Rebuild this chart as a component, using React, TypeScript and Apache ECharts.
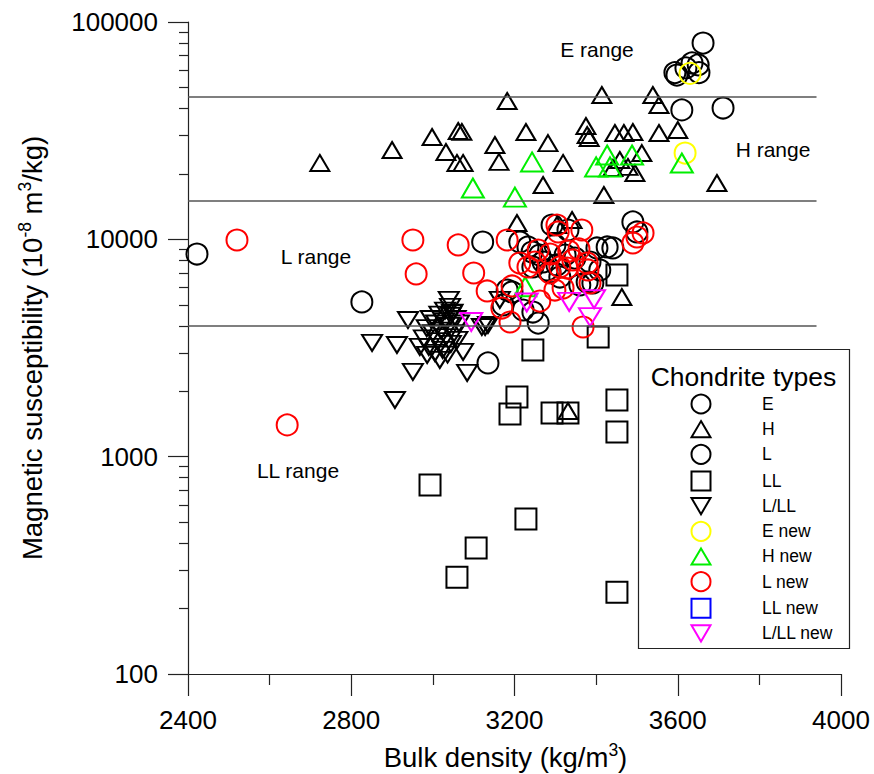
import React, { useEffect, useRef } from 'react';
import * as echarts from 'echarts';

// ---------- data (bulk density kg/m3, magnetic susceptibility 1e-8 m3/kg) ----------
const eData: number[][] = [
  [3593, 58500], [3598, 57000], [3620, 61500], [3635, 64800], [3650, 63500],
  [3652, 58500], [3662, 80000], [3610, 39400], [3711, 40200],
];
const hData: number[][] = [
  [2723, 22460], [2900, 25760], [2998, 29580], [3032, 25220], [3059, 22460],
  [3062, 31500], [3071, 31200], [3074, 22460], [3152, 27170], [3162, 22700],
  [3182, 43300], [3206, 11890], [3228, 31180], [3270, 17780], [3282, 27730],
  [3304, 11640], [3319, 22460], [3341, 12270], [3331, 1622], [3375, 33230],
  [3378, 30200], [3383, 29270], [3414, 46150], [3419, 15990], [3441, 21290],
  [3446, 30850], [3458, 23180], [3463, 5430], [3468, 30850], [3478, 21530],
  [3490, 31180], [3495, 20190], [3512, 24950], [3539, 46150], [3554, 41500],
  [3554, 30850], [3600, 31840], [3696, 18160],
];
const lData: number[][] = [
  [2422, 8560], [2826, 5150], [3122, 9720], [3135, 2700], [3213, 9720],
  [3233, 9222], [3243, 8740], [3292, 11640], [3331, 11040], [3304, 7620],
  [3280, 7227], [3360, 6165], [3378, 6363], [3402, 9125], [3427, 9222],
  [3441, 9125], [3490, 12020], [3500, 10810], [3172, 4988], [3194, 5725],
  [3258, 4120], [3245, 4630], [3287, 7074], [3311, 6708], [3392, 6297],
  [3245, 7460], [3270, 7865], [3262, 8470], [3324, 8470], [3348, 8200],
  [3299, 9420], [3385, 7865], [3221, 4730], [3182, 5845], [3409, 7227],
];
const llData: number[][] = [
  [3451, 6855], [3405, 3553], [3245, 3096], [3206, 1882], [3189, 1572],
  [3292, 1588], [3331, 1588], [3451, 1823], [3451, 1299], [2993, 741],
  [3228, 517], [3106, 380], [3059, 279], [3451, 238],
];
const lllData: number[][] = [
  [2939, 4255], [2851, 3335], [2912, 3265], [2968, 3197], [2986, 2937],
  [3017, 2786], [2951, 2453], [3074, 3033], [3084, 2427], [2907, 1823],
  [3039, 5260], [3042, 4885], [3047, 4580], [3120, 3950], [3128, 3950],
  [3135, 4035], [3164, 5260],
  [2978, 3500], [2985, 3900], [2990, 3200], [2995, 4300], [3000, 3700],
  [3005, 3000], [3008, 4100], [3012, 3400], [3016, 4500], [3020, 3800],
  [3024, 3100], [3028, 4200], [3032, 3550], [3036, 2950], [3040, 4000],
  [3044, 3300], [3048, 4600], [3052, 3700], [3056, 4300], [3060, 3450],
  [3064, 4100], [3030, 4700], [3044, 4450],
];
const eNewData: number[][] = [[3630, 58000], [3618, 24950]];
const hNewData: number[][] = [
  [3098, 17220], [3201, 15650], [3243, 22700], [3427, 24430], [3488, 24430],
  [3400, 21530], [3434, 21530], [3610, 22460], [3226, 6050],
];
const lNewData: number[][] = [
  [2520, 9930], [2643, 1400], [2951, 9930], [2959, 6930], [3062, 9420],
  [3100, 7000], [3133, 5785], [3182, 9930], [3213, 7780], [3194, 6100],
  [3169, 4830], [3189, 4165], [3262, 5200], [3304, 11640], [3307, 10810],
  [3365, 11040], [3258, 8930], [3287, 8560], [3333, 8830], [3358, 9030],
  [3378, 7780], [3380, 7227], [3385, 6297], [3299, 5845], [3319, 5970],
  [3368, 3950], [3490, 9620], [3500, 10250], [3515, 10700], [3233, 7460],
  [3250, 7865], [3287, 7000], [3311, 7460], [3343, 8035], [3329, 7380],
];
const llNewData: number[][] = [];
const lllNewData: number[][] = [
  [3094, 4165], [3230, 5120], [3334, 5150], [3395, 5300], [3385, 4390],
];

const xMin = 2400;
const xMax = 4000;
const xInterval = 400;
const yMin = 100;
const yMax = 100000;
const yMinorTicks = [
  200, 300, 400, 500, 600, 700, 800, 900,
  2000, 3000, 4000, 5000, 6000, 7000, 8000, 9000,
  20000, 30000, 40000, 50000, 60000, 70000, 80000, 90000,
];
const rangeLines = [45500, 15000, 4000];
const rangeLineEnd = 3940;
const rangeNames = ['E range', 'H range', 'L range', 'LL range'];
const legendTitle = 'Chondrite types';

const FONT = '"Liberation Sans", Arial, Helvetica, sans-serif';
const UP = 'path://M10,0L20,17L0,17Z';
const DOWN = 'path://M0,0L20,0L10,17Z';

function sc(name: string, data: number[][], symbol: string, size: any, color: string, extra: any = {}) {
  return {
    type: 'scatter',
    name,
    data,
    symbol,
    symbolSize: size,
    silent: true,
    emphasis: { disabled: true },
    itemStyle: { color: 'transparent', borderColor: color, borderWidth: 2, opacity: 1 },
    ...extra,
  };
}

export default function App() {
  const ref = useRef<HTMLDivElement>(null);
  useEffect(() => {
    document.body.style.margin = '0';
    const chart = echarts.init(ref.current!, undefined, { renderer: 'svg' });
    const axisColor = '#222';
    const legendItems = [
      ['E', 'circle', '#000'],
      ['H', UP, '#000'],
      ['L', 'circle', '#000'],
      ['LL', 'rect', '#000'],
      ['L/LL', DOWN, '#000'],
      ['E new', 'circle', '#ffff00'],
      ['H new', UP, '#00ee00'],
      ['L new', 'circle', '#ff0000'],
      ['LL new', 'rect', '#0000ff'],
      ['L/LL new', DOWN, '#ff00ff'],
    ];
    const rangeText = (text: string, x: number, y: number) => ({
      type: 'text', x, y, silent: true,
      style: { text, fontSize: 21, fontFamily: FONT, fill: '#000', align: 'center', verticalAlign: 'middle' },
    });
    const option: any = {
      animation: false,
      backgroundColor: '#fff',
      textStyle: { fontFamily: FONT },
      grid: { left: 188, right: 33, top: 22, bottom: 100, containLabel: false, outerBoundsMode: 'none' },
      xAxis: {
        type: 'value',
        min: xMin,
        max: xMax,
        interval: xInterval,
        splitLine: { show: false },
        axisLine: { show: true, lineStyle: { color: axisColor, width: 1.2 } },
        axisTick: { show: true, length: 22, lineStyle: { color: axisColor, width: 1.2 } },
        minorTick: { show: true, splitNumber: 2, length: 11, lineStyle: { color: axisColor, width: 1.2 } },
        axisLabel: { color: '#000', fontSize: 26, fontFamily: FONT, margin: 33, formatter: (v: number) => String(v) },
        name: '{n|Bulk density (kg/m}{s|3}{n|)}',
        nameLocation: 'middle',
        nameGap: 67,
        nameTextStyle: {
          padding: [0, 18, 0, 0],
          rich: {
            n: { fontSize: 27.5, fontFamily: FONT, color: '#000', lineHeight: 32 },
            s: { fontSize: 17.5, fontFamily: FONT, color: '#000', lineHeight: 17, verticalAlign: 'top' },
          },
        },
      },
      yAxis: [
        {
          type: 'log',
          logBase: 10,
          min: yMin,
          max: yMax,
          position: 'left',
          splitLine: { show: false },
          axisLine: { show: true, lineStyle: { color: axisColor, width: 1.2 } },
          axisTick: { show: true, length: 20, lineStyle: { color: axisColor, width: 1.2 } },
          axisLabel: { color: '#000', fontSize: 26, fontFamily: FONT, margin: 30, formatter: (v: number) => String(Math.round(v)) },
          name: '{n|Magnetic susceptibility (10}{s|-8}{n| m}{s|3}{n|/kg)}',
          nameLocation: 'middle',
          nameGap: 140,
          nameRotate: 90,
          nameTextStyle: {
            rich: {
              n: { fontSize: 27.5, fontFamily: FONT, color: '#000', lineHeight: 32 },
              s: { fontSize: 17.5, fontFamily: FONT, color: '#000', lineHeight: 17, verticalAlign: 'top' },
            },
          },
        },
        {
          type: 'log',
          logBase: 10,
          min: yMin,
          max: yMax,
          position: 'left',
          offset: 0,
          splitLine: { show: false },
          axisLine: { show: false },
          axisLabel: { show: false },
          axisTick: { show: true, length: 9, customValues: yMinorTicks, lineStyle: { color: axisColor, width: 1.2 } },
        },
      ],
      legend: {
        orient: 'vertical',
        left: 690.5,
        top: 393.5,
        padding: 0,
        itemWidth: 19,
        itemHeight: 19,
        itemGap: 5.6,
        selectedMode: false,
        textStyle: { fontSize: 17.5, color: '#000', fontFamily: FONT, padding: [0, 0, 0, 46.5] },
        data: legendItems.map(([name, icon, color]) => ({
          name,
          icon,
          itemStyle: { color: 'transparent', borderColor: color, borderWidth: 2 },
        })),
      },
      graphic: [
        {
          type: 'rect',
          silent: true,
          shape: { x: 638.5, y: 349.5, width: 211, height: 299 },
          style: { fill: 'none', stroke: '#222', lineWidth: 1.2 },
        },
        {
          type: 'text', x: 743.5, y: 377, silent: true,
          style: { text: legendTitle, fontSize: 26.5, fontFamily: FONT, fill: '#000', align: 'center', verticalAlign: 'middle' },
        },
        rangeText(rangeNames[0], 597, 49),
        rangeText(rangeNames[1], 773, 149),
        rangeText(rangeNames[2], 316, 256),
        rangeText(rangeNames[3], 298, 470),
      ],
      series: [
        sc('E', eData, 'circle', 21, '#000', {
          markLine: {
            silent: true,
            symbol: ['none', 'none'],
            label: { show: false },
            lineStyle: { color: '#555', width: 1.5, type: 'solid' },
            data: rangeLines.map((v) => [{ coord: [xMin, v] }, { coord: [rangeLineEnd, v] }]),
          },
        }),
        sc('H', hData, UP, [19, 16], '#000'),
        sc('L', lData, 'circle', 21, '#000'),
        sc('LL', llData, 'rect', 21, '#000'),
        sc('L/LL', lllData, DOWN, [20, 16], '#000'),
        sc('E new', eNewData, 'circle', 21, '#ffff00'),
        sc('H new', hNewData, UP, [22, 19], '#00ee00'),
        sc('L new', lNewData, 'circle', 21, '#ff0000'),
        sc('LL new', llNewData, 'rect', 21, '#0000ff'),
        sc('L/LL new', lllNewData, DOWN, [22, 18], '#ff00ff'),
      ],
    };
    chart.setOption(option);
    return () => chart.dispose();
  }, []);
  return <div ref={ref} style={{ width: 874, height: 774, overflow: 'hidden' }} />;
}
